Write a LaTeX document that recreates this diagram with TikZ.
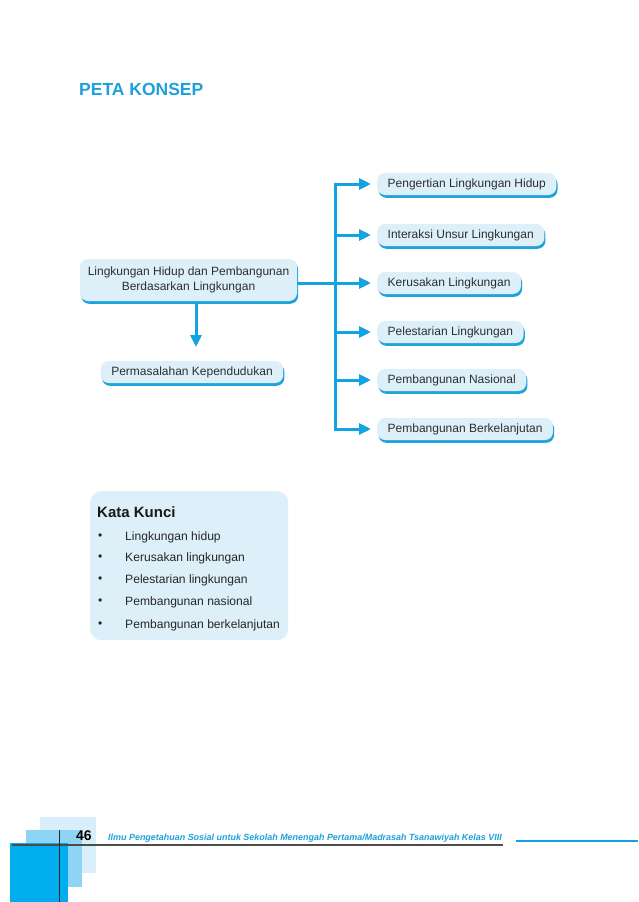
\documentclass[tikz,border=0pt]{standalone}
\usepackage{fontspec}
\setmainfont{Liberation Sans}
\usetikzlibrary{shadows,arrows.meta}
\definecolor{boxfill}{HTML}{DDF0FA}
\definecolor{boxshadow}{HTML}{1FA3DD}
\definecolor{linecol}{HTML}{12A4E2}
\definecolor{titlecol}{HTML}{1EA0DC}
\definecolor{sqdark}{HTML}{00AEEF}
\definecolor{sqmid}{HTML}{8ED4F5}
\definecolor{sqlight}{HTML}{D8EFFB}
\tikzset{
  conceptbox/.style={fill=boxfill, rounded corners=8pt, inner xsep=10.5pt, minimum height=22pt,
    font=\fontsize{12}{14}\selectfont, text=black!82,
    general shadow={fill=boxshadow, shadow xshift=1.2pt, shadow yshift=-2.8pt}},
  conn/.style={draw=linecol, line width=3pt},
  arr/.style={conn, -{Triangle[length=12pt,width=11pt]}},
  kw/.style={anchor=west, font=\fontsize{12.1}{14}\selectfont, text=black!85},
}
\begin{document}
\begin{tikzpicture}[x=1pt,y=-1pt]
\useasboundingbox (0,0) rectangle (638,902);
\fill[white] (0,0) rectangle (638,902);

\node[anchor=west, inner sep=0pt, font=\bfseries\fontsize{17.5}{19}\selectfont, text=titlecol] (title) at (79,89) {PETA KONSEP};

% main node
\node[conceptbox, align=center, inner xsep=7pt, minimum width=217pt, minimum height=42pt, font=\fontsize{12}{15}\selectfont] (main) at (188.5,280) {Lingkungan Hidup dan Pembangunan\\Berdasarkan Lingkungan};
\node[conceptbox, minimum width=180pt] (perm) at (192,372) {Permasalahan Kependudukan};

\node[conceptbox, anchor=west] (b1) at (377,184) {Pengertian Lingkungan Hidup};
\node[conceptbox, anchor=west] (b2) at (377,235) {Interaksi Unsur Lingkungan};
\node[conceptbox, anchor=west] (b3) at (377,283) {Kerusakan Lingkungan};
\node[conceptbox, anchor=west] (b4) at (377,332) {Pelestarian Lingkungan};
\node[conceptbox, anchor=west] (b5) at (377,380) {Pembangunan Nasional};
\node[conceptbox, anchor=west] (b6) at (377,429) {Pembangunan Berkelanjutan};

\coordinate (j) at (335,283);
\coordinate (jt) at (335,184);
\coordinate (jb) at (335,429);
\draw[conn] (main.east |- j) -- (j);
\draw[conn] ([yshift=1.5pt]jt) -- ([yshift=-1.5pt]jb);
\foreach \b in {b1,b2,b3,b4,b5,b6}{
  \draw[arr, shorten >=6pt] ([xshift=-1.5pt]jt |- \b.west) -- (\b.west);
}
\coordinate (dn) at (196,302);
\draw[arr] (dn) -- (196,347);

% Kata Kunci
\node[fill=boxfill, rounded corners=11pt, minimum width=198pt, minimum height=149pt, anchor=north west] (kk) at (90,491) {};
\node[anchor=west, inner sep=0pt, font=\bfseries\fontsize{15}{17}\selectfont, text=black!90] (kkt) at (97,512) {Kata Kunci};
\foreach \y/\t [count=\i] in {537/Lingkungan hidup, 558/Kerusakan lingkungan, 580/Pelestarian lingkungan, 602/Pembangunan nasional, 625/Pembangunan berkelanjutan}{
  \node[kw, inner sep=0pt] (kb\i) at (98,\y) {\textbullet};
  \node[kw, inner sep=0pt] (ki\i) at (125,\y) {\t};
}

% footer
\fill[sqlight] (40,817) rectangle (96,873);
\fill[sqmid] (26,830) rectangle (82,887);
\fill[sqdark] (10,843) rectangle (68,902);
\draw[black!70, line width=1.8pt] (12,845) -- (503,845);
\draw[black!85, line width=1pt] (59.5,830) -- (59.5,902);
\node[anchor=west, font=\bfseries\fontsize{14}{16}\selectfont, inner sep=0pt] (pg) at (76,836) {46};
\node[anchor=west, font=\bfseries\itshape\fontsize{8.95}{10}\selectfont, text=titlecol, inner sep=0pt] (ft) at (108,838) {Ilmu Pengetahuan Sosial untuk Sekolah Menengah Pertama/Madrasah Tsanawiyah Kelas VIII};
\draw[linecol, line width=1.2pt] (516,841) -- (638,841);
\end{tikzpicture}
\end{document}
